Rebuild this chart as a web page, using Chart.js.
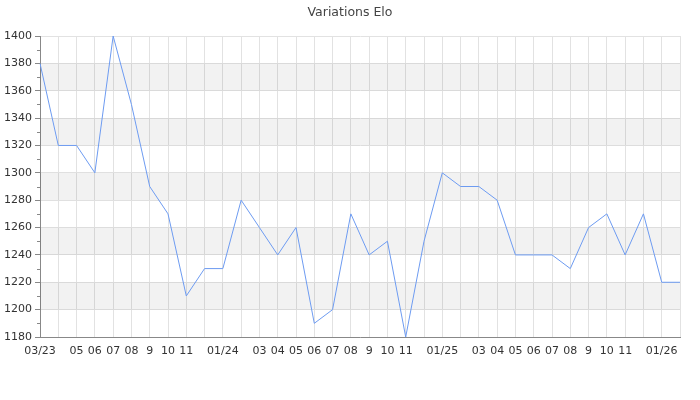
<!DOCTYPE html>
<html>
<head>
<meta charset="utf-8">
<script src="https://cdn.jsdelivr.net/npm/chart.js@4/dist/chart.umd.min.js"></script>
<style>
  html, body { margin: 0; padding: 0; background: #fff; }
  #wrap { width: 700px; height: 400px; }
</style>
</head>
<body>
<div id="wrap"><canvas id="grafica"></canvas></div>
<script>
// months 03/23 .. 02/26, empty label = hidden on the axis
const mois = ['03/23', '', '05', '06', '07', '08', '9', '10', '11', '', '01/24', '',
    '03', '04', '05', '06', '07', '08', '9', '10', '11', '', '01/25', '',
    '03', '04', '05', '06', '07', '08', '9', '10', '11', '', '01/26', ''];

const elo = [1380, 1320, 1320, 1300, 1400, 1350, 1290, 1270, 1210, 1230, 1230, 1280,
    1260, 1240, 1260, 1190, 1200, 1270, 1240, 1250, 1180, 1250, 1300, 1290,
    1290, 1280, 1240, 1240, 1240, 1230, 1260, 1270, 1240, 1270, 1220, 1220];

const yMin = 1180;
const yMax = 1400;
const bandes = [[1200, 1220], [1240, 1260], [1280, 1300], [1320, 1340], [1360, 1380]];

// gray bands + minor ticks on the y axis
const decor = {
    id: 'decor',
    beforeDatasetsDraw(chart) {
        const { ctx, chartArea, scales } = chart;
        ctx.save();
        ctx.fillStyle = 'rgba(0,0,0,0.05)';
        bandes.forEach(([a, b]) => {
            const y1 = scales.y.getPixelForValue(b);
            const y2 = scales.y.getPixelForValue(a);
            ctx.fillRect(chartArea.left, y1, chartArea.right - chartArea.left, y2 - y1);
        });
        ctx.restore();
    },
    afterDraw(chart) {
        const { ctx, chartArea, scales } = chart;
        ctx.save();
        ctx.strokeStyle = '#888';
        ctx.lineWidth = 1;
        for (let v = yMin + 10; v < yMax; v += 20) {
            const y = Math.round(scales.y.getPixelForValue(v)) + 0.5;
            ctx.beginPath();
            ctx.moveTo(chartArea.left - 3, y);
            ctx.lineTo(chartArea.left, y);
            ctx.stroke();
        }
        ctx.restore();
    }
};

new Chart(document.getElementById('grafica'), {
    type: 'line',
    data: {
        labels: mois,
        datasets: [{
            data: elo,
            borderColor: '#6d9bf1',
            borderWidth: 1,
            pointRadius: 0,
            tension: 0,
            fill: false
        }]
    },
    options: {
        responsive: true,
        maintainAspectRatio: false,
        animation: false,
        layout: { padding: { left: 0, right: 0, top: 0, bottom: 38 } },
        plugins: {
            legend: { display: false },
            tooltip: { enabled: false },
            title: {
                display: true,
                text: 'Variations Elo',
                color: '#444',
                font: { family: 'DejaVu Sans', size: 12.5, weight: 'normal' },
                padding: { top: 5.5, bottom: 15.5 }
            }
        },
        scales: {
            x: {
                offset: false,
                grid: { color: '#e2e2e2', drawTicks: false },
                border: { color: '#888' },
                ticks: {
                    autoSkip: false,
                    maxRotation: 0,
                    padding: 8,
                    color: '#333',
                    font: { family: 'DejaVu Sans', size: 11 }
                },
                afterFit(scale) { scale.height = 25; }
            },
            y: {
                min: yMin,
                max: yMax,
                grid: { color: '#e2e2e2', tickColor: '#888', tickLength: 5 },
                border: { color: '#888' },
                ticks: {
                    stepSize: 20,
                    padding: 3,
                    color: '#333',
                    font: { family: 'DejaVu Sans', size: 11 },
                    callback: v => String(v)
                },
                afterFit(scale) { scale.width = 40; }
            },
            // empty axis to keep a 20px margin on the right
            marge: {
                type: 'linear',
                position: 'right',
                display: true,
                grid: { display: false },
                border: { display: false },
                ticks: { display: false },
                afterFit(scale) { scale.width = 20; }
            }
        }
    },
    plugins: [decor]
});
</script>
</body>
</html>
